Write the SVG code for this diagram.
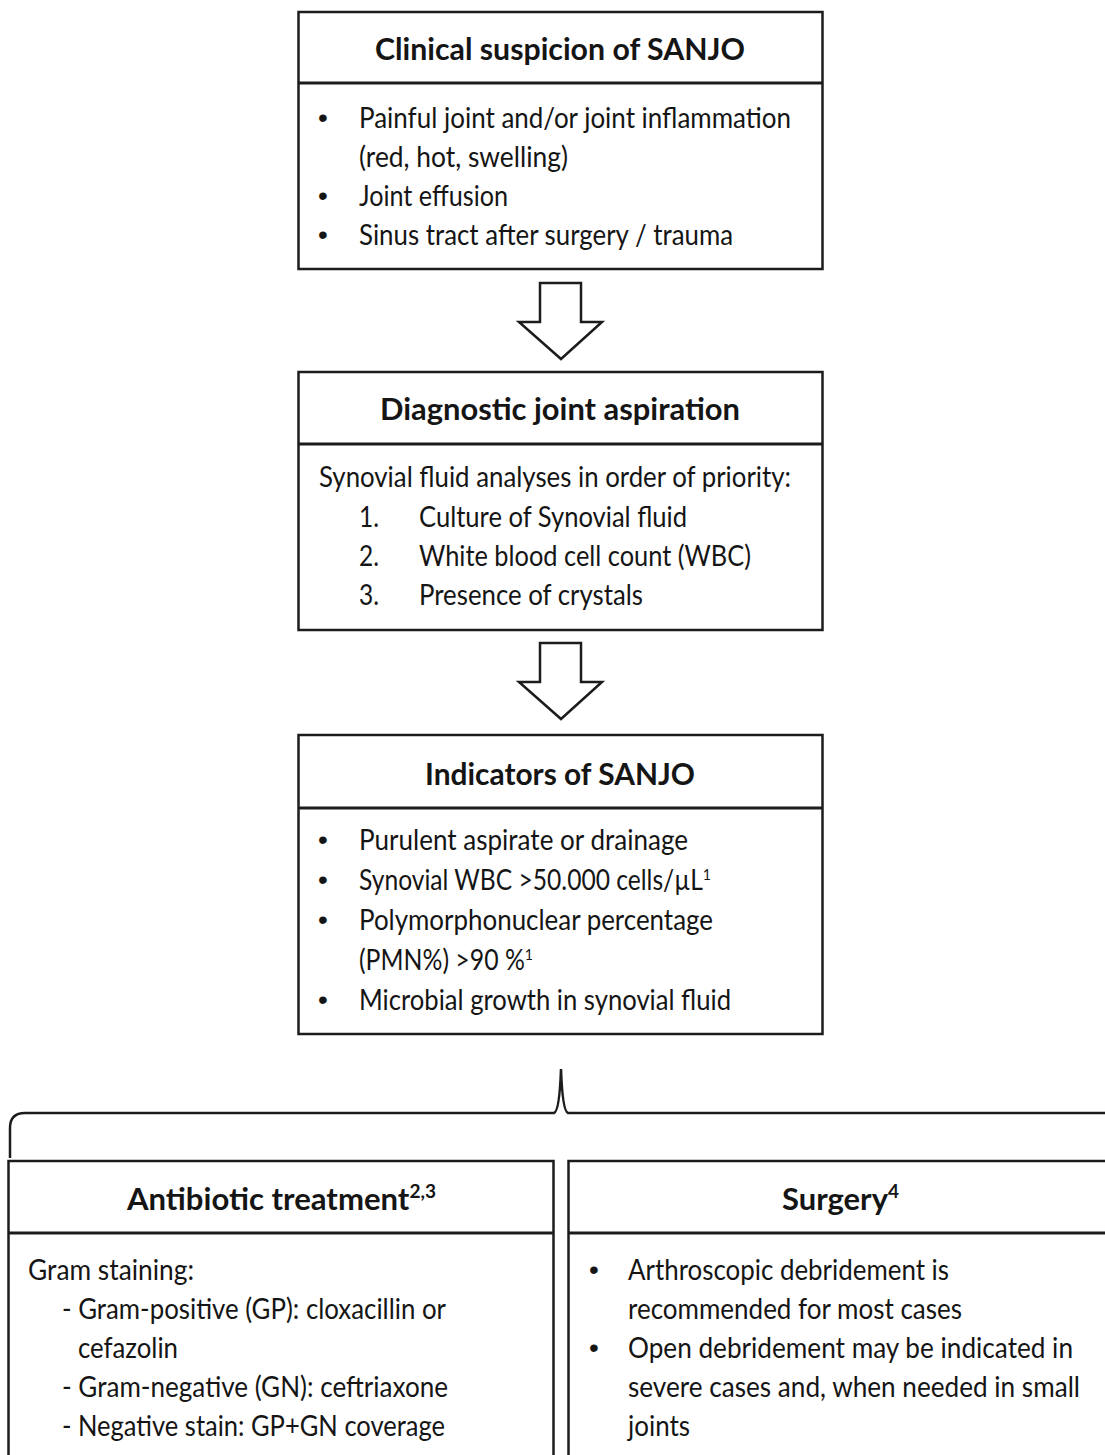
<svg xmlns="http://www.w3.org/2000/svg" width="1105" height="1455" viewBox="0 0 1105 1455">
<style>
.box{fill:#fff;stroke:#1c1c1c;stroke-width:2.5}
.div{stroke:#1c1c1c;stroke-width:2.8}
.t{font-family:Lato,"Open Sans","Liberation Sans",sans-serif;font-size:28px;fill:#151515}
.h{font-family:Lato,"Open Sans","Liberation Sans",sans-serif;font-size:31px;font-weight:bold;fill:#151515}
.b{font-family:"Liberation Sans",sans-serif;font-size:28px;fill:#151515;text-anchor:middle}
.arrow{fill:#fff;stroke:#1c1c1c;stroke-width:2.5;stroke-linejoin:miter}
.brace{fill:none;stroke:#1c1c1c;stroke-width:2.5}
</style>
<rect width="1105" height="1455" fill="#fff"/>

<g id="clinical-suspicion">
<rect class="box" x="298.5" y="12" width="524" height="257"/>
<line class="div" x1="298.5" y1="83" x2="822.5" y2="83"/>
<text class="h" x="375" y="60" textLength="370" lengthAdjust="spacingAndGlyphs">Clinical suspicion of SANJO</text>
<text class="b" x="323" y="127">•</text>
<text class="t" x="359" y="128" textLength="432" lengthAdjust="spacingAndGlyphs">Painful joint and/or joint inflammation</text>
<text class="t" x="359" y="167" textLength="209" lengthAdjust="spacingAndGlyphs">(red, hot, swelling)</text>
<text class="b" x="323" y="205">•</text>
<text class="t" x="359" y="206" textLength="149" lengthAdjust="spacingAndGlyphs">Joint effusion</text>
<text class="b" x="323" y="244">•</text>
<text class="t" x="359" y="245" textLength="374" lengthAdjust="spacingAndGlyphs">Sinus tract after surgery / trauma</text>
</g>

<g id="diagnostic-aspiration">
<rect class="box" x="298.5" y="372" width="524" height="258"/>
<line class="div" x1="298.5" y1="444" x2="822.5" y2="444"/>
<text class="h" x="380" y="420" textLength="360" lengthAdjust="spacingAndGlyphs">Diagnostic joint aspiration</text>
<text class="t" x="319" y="487" textLength="472" lengthAdjust="spacingAndGlyphs">Synovial fluid analyses in order of priority:</text>
<text class="t" x="359" y="527" textLength="20" lengthAdjust="spacingAndGlyphs">1.</text>
<text class="t" x="419" y="527" textLength="268" lengthAdjust="spacingAndGlyphs">Culture of Synovial fluid</text>
<text class="t" x="359" y="566" textLength="20" lengthAdjust="spacingAndGlyphs">2.</text>
<text class="t" x="419" y="566" textLength="332" lengthAdjust="spacingAndGlyphs">White blood cell count (WBC)</text>
<text class="t" x="359" y="605" textLength="20" lengthAdjust="spacingAndGlyphs">3.</text>
<text class="t" x="419" y="605" textLength="224" lengthAdjust="spacingAndGlyphs">Presence of crystals</text>
</g>

<g id="indicators">
<rect class="box" x="298.5" y="735" width="524" height="299"/>
<line class="div" x1="298.5" y1="808" x2="822.5" y2="808"/>
<text class="h" x="425" y="785" textLength="270" lengthAdjust="spacingAndGlyphs">Indicators of SANJO</text>
<text class="b" x="323" y="849">•</text>
<text class="t" x="359" y="850" textLength="329" lengthAdjust="spacingAndGlyphs">Purulent aspirate or drainage</text>
<text class="b" x="323" y="889">•</text>
<text class="t" x="359" y="890" textLength="352" lengthAdjust="spacingAndGlyphs">Synovial WBC &gt;50.000 cells/µL<tspan dy="-10" font-size="16">1</tspan></text>
<text class="b" x="323" y="929">•</text>
<text class="t" x="359" y="930" textLength="354" lengthAdjust="spacingAndGlyphs">Polymorphonuclear percentage</text>
<text class="t" x="359" y="970" textLength="174" lengthAdjust="spacingAndGlyphs">(PMN%) &gt;90 %<tspan dy="-10" font-size="16">1</tspan></text>
<text class="b" x="323" y="1009">•</text>
<text class="t" x="359" y="1010" textLength="372" lengthAdjust="spacingAndGlyphs">Microbial growth in synovial fluid</text>
</g>

<g id="connectors">
<polygon class="arrow" points="540,283 581,283 581,322 602,322 561,359 519,322 540,322"/>
<polygon class="arrow" points="540,643 581,643 581,682 602,682 561,719 519,682 540,682"/>
<path class="brace" d="M10,1158 L10,1128 Q10,1113 25,1113 L554,1113 Q559.5,1111 561,1069 Q562.5,1111 568,1113 L1110,1113"/>
</g>

<g id="antibiotic-treatment">
<rect class="box" x="8.5" y="1161" width="545" height="330"/>
<line class="div" x1="8.5" y1="1233" x2="553.5" y2="1233"/>
<text class="h" x="127" y="1210" textLength="309" lengthAdjust="spacingAndGlyphs">Antibiotic treatment<tspan dy="-12" font-size="19">2,3</tspan></text>
<text class="t" x="28" y="1280" textLength="166" lengthAdjust="spacingAndGlyphs">Gram staining:</text>
<text class="t" x="62" y="1319" textLength="384" lengthAdjust="spacingAndGlyphs">- Gram-positive (GP): cloxacillin or</text>
<text class="t" x="78" y="1358" textLength="100" lengthAdjust="spacingAndGlyphs">cefazolin</text>
<text class="t" x="62" y="1397" textLength="386" lengthAdjust="spacingAndGlyphs">- Gram-negative (GN): ceftriaxone</text>
<text class="t" x="62" y="1436" textLength="383" lengthAdjust="spacingAndGlyphs">- Negative stain: GP+GN coverage</text>
</g>

<g id="surgery">
<rect class="box" x="568.5" y="1161" width="560" height="330"/>
<line class="div" x1="568.5" y1="1233" x2="1128" y2="1233"/>
<text class="h" x="782" y="1210" textLength="117" lengthAdjust="spacingAndGlyphs">Surgery<tspan dy="-12" font-size="19">4</tspan></text>
<text class="b" x="594" y="1279">•</text>
<text class="t" x="628" y="1280" textLength="321" lengthAdjust="spacingAndGlyphs">Arthroscopic debridement is</text>
<text class="t" x="628" y="1319" textLength="334" lengthAdjust="spacingAndGlyphs">recommended for most cases</text>
<text class="b" x="594" y="1357">•</text>
<text class="t" x="628" y="1358" textLength="445" lengthAdjust="spacingAndGlyphs">Open debridement may be indicated in</text>
<text class="t" x="628" y="1397" textLength="452" lengthAdjust="spacingAndGlyphs">severe cases and, when needed in small</text>
<text class="t" x="628" y="1436" textLength="62" lengthAdjust="spacingAndGlyphs">joints</text>
</g>
</svg>
